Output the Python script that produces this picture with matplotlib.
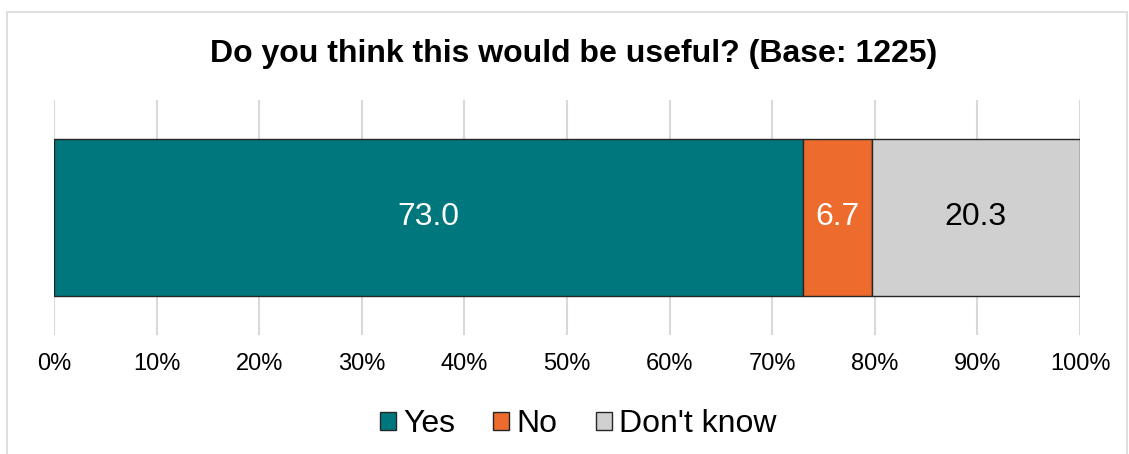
import matplotlib.pyplot as plt
from matplotlib.patches import Rectangle

plt.rcParams['font.family'] = ['Liberation Sans', 'DejaVu Sans']

# Data
categories = ['Yes', 'No', "Don't know"]
values = [73.0, 6.7, 20.3]
colors = ['#00777d', '#ec6b2d', '#d0d0d0']
label_colors = ['white', 'white', 'black']
ticks = list(range(0, 101, 10))
tick_labels = [f'{t}%' for t in ticks]

W, H = 1129, 454
fig = plt.figure(figsize=(W / 100, H / 100), dpi=100)

# Chart border
fig.patches.append(Rectangle((7 / W, -0.05), (1127 - 7) / W, 1.05 - 12 / H,
                             transform=fig.transFigure, fill=False,
                             edgecolor='#d9d9d9', linewidth=1.2))

ax = fig.add_axes([54 / W, 1 - 335 / H, (1080 - 54) / W, 235 / H])

left = 0
for cat, val, col, lc in zip(categories, values, colors, label_colors):
    ax.barh(0, val, left=left, height=0.664, color=col, edgecolor='#262626',
            linewidth=1.0, label=cat, zorder=3)
    ax.text(left + val / 2, 0, f'{val:.1f}', ha='center', va='center',
            color=lc, fontsize=23, zorder=4)
    left += val

ax.set_xlim(0, 100)
ax.set_ylim(-0.5, 0.5)
ax.set_xticks(ticks)
ax.set_xticklabels(tick_labels, fontsize=17)
ax.set_yticks([])
ax.tick_params(axis='x', length=0, pad=13)
ax.grid(axis='x', color='#d9d9d9', linewidth=1.5, zorder=0)
for s in ax.spines.values():
    s.set_visible(False)

fig.text(574 / W, 1 - 54 / H, 'Do you think this would be useful? (Base: 1225)',
         ha='center', va='center', fontsize=23, fontweight='bold')

fig.legend(loc='center', bbox_to_anchor=(578 / W, 1 - 424 / H), ncol=3,
           frameon=False, fontsize=23, handlelength=0.5, handleheight=0.5,
           handletextpad=0.22, columnspacing=1.2)

fig.savefig('out.png', dpi=100)
